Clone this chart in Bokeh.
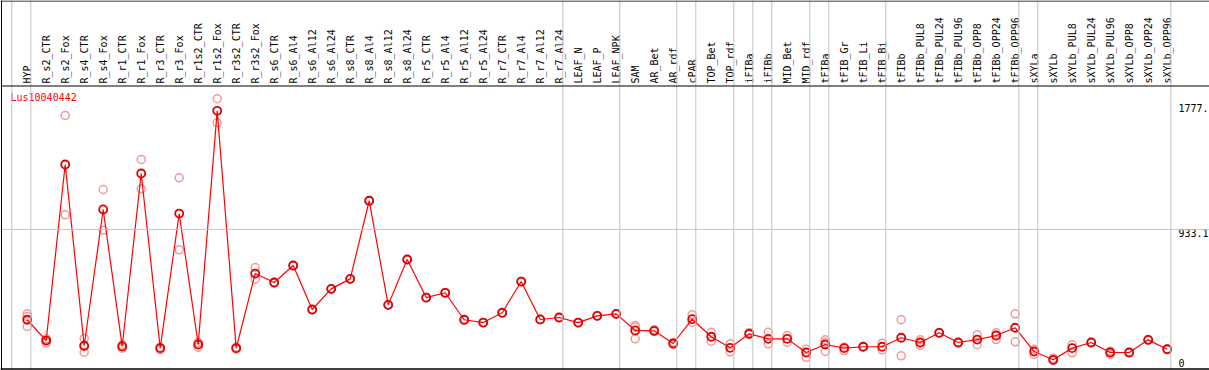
import math
from bokeh.plotting import figure
from bokeh.models import Range1d, Span
from bokeh.core.properties import value
from bokeh.embed import file_html
from bokeh.resources import INLINE

title_text = "Lus10040442"

categories = [
    "HYP", "R_s2_CTR", "R_s2_Fox", "R_s4_CTR", "R_s4_Fox", "R_r1_CTR", "R_r1_Fox",
    "R_r3_CTR", "R_r3_Fox", "R_r1s2_CTR", "R_r1s2_Fox", "R_r3s2_CTR", "R_r3s2_Fox",
    "R_s6_CTR", "R_s6_Al4", "R_s6_Al12", "R_s6_Al24", "R_s8_CTR", "R_s8_Al4",
    "R_s8_Al12", "R_s8_Al24", "R_r5_CTR", "R_r5_Al4", "R_r5_Al12", "R_r5_Al24",
    "R_r7_CTR", "R_r7_Al4", "R_r7_Al12", "R_r7_Al24", "LEAF_N", "LEAF_P", "LEAF_NPK",
    "SAM", "AR_Bet", "AR_rdf", "cPAR", "TOP_Bet", "TOP_rdf", "iFIBa", "iFIBb",
    "MID_Bet", "MID_rdf", "tFIBa", "tFIB_Gr", "tFIB_Li", "tFIB_Bi", "tFIBb",
    "tFIBb_PUL8", "tFIBb_PUL24", "tFIBb_PUL96", "tFIBb_OPP8", "tFIBb_OPP24",
    "tFIBb_OPP96", "sXYLa", "sXYLb", "sXYLb_PUL8", "sXYLb_PUL24", "sXYLb_PUL96",
    "sXYLb_OPP8", "sXYLb_OPP24", "sXYLb_OPP96",
]

means = [
    290, 142, 1395, 105, 1075, 100, 1331, 88, 1046, 114,
    1777, 88, 619, 555, 676, 363, 510, 581, 1137, 396,
    719, 448, 482, 290, 270, 340, 562, 292, 306, 270,
    318, 332, 214, 211, 121, 294, 169, 90, 190, 154,
    154, 57, 114, 88, 98, 98, 162, 128, 197, 128,
    149, 178, 233, 64, 5, 88, 128, 57, 57, 147, 80,
]

replicates = [
    [332, 313, 242], [154, 126, 146], [1744, 1037], [157, 59, 100], [1217, 927],
    [112, 88], [1431, 1222], [95, 78], [1300, 788], [128, 95],
    [1863, 1692], [95, 80], [662, 579], [555, 552], [676, 674],
    [363, 361], [510, 508], [581, 579], [1137, 1135], [396, 394],
    [719, 717], [448, 446], [482, 480], [290, 288], [270, 268],
    [340, 338], [562, 560], [292, 290], [306, 304], [270, 268],
    [318, 316], [332, 330], [249, 237, 154], [219, 206], [128, 114],
    [325, 273], [201, 137], [119, 62], [199, 185], [201, 119],
    [178, 130], [80, 23], [147, 130, 64], [95, 71], [100, 96],
    [123, 76], [290, 33], [147, 109], [199, 195], [130, 126],
    [183, 112], [197, 149], [332, 133], [80, 43], [16, 0],
    [112, 55], [130, 126], [66, 43], [59, 55], [149, 145], [82, 78],
]

# index of the last column of each group (-1 = left edge)
group_ends = [-1, 0, 28, 31, 34, 35, 37, 38, 39, 41, 42, 45, 52, 53, 60]

ytick_values = [0, 933.1, 1777]
ytick_labels = ["0", "933.1", "1777."]

# ---- layout (pixels inside the figure) ----
W, H = 1209, 370
X0, S = 26.7, 19.0      # px of first column, column pitch
Z, K = 360.0, 0.1405    # px of zero, px per unit


def dx(px):
    return (px - X0) / S


def dy(py):
    return (Z - py) / K


FONT = value("DejaVu Sans Mono")

p = figure(width=W, height=H, output_backend="svg", toolbar_location=None,
           x_axis_type=None, y_axis_type=None, title=None,
           x_range=Range1d(dx(0), dx(W)), y_range=Range1d(dy(H), dy(0)),
           min_border=0, min_border_left=0, min_border_right=0,
           min_border_top=0, min_border_bottom=0)
p.outline_line_color = None
p.background_fill_color = "white"
p.border_fill_color = "white"

GRID = "#c4c4c4"
for e in group_ends:
    p.add_layout(Span(location=e + 3.6 / S, dimension="height",
                      line_color=GRID, line_width=1))
p.add_layout(Span(location=ytick_values[1], dimension="width",
                  line_color=GRID, line_width=1))

# frame lines
p.add_layout(Span(location=dy(85.5), dimension="width", line_color="black", line_width=1))
p.add_layout(Span(location=dy(0.5), dimension="width", line_color="black", line_width=1))
p.add_layout(Span(location=dy(368.5), dimension="width", line_color="black", line_width=1.5))
p.add_layout(Span(location=dx(1.0), dimension="height", line_color="black", line_width=1))

idx = list(range(len(categories)))

# column labels
p.text(x=idx, y=dy(83), text=categories, angle=math.pi / 2,
       text_align="left", text_baseline="middle", text_font=FONT,
       text_font_size="10px", text_color="black")

# replicate points
rep_x, rep_y = [], []
for i, reps in enumerate(replicates):
    for r in reps:
        rep_x.append(i)
        rep_y.append(r)
p.scatter(x=rep_x, y=rep_y, marker="circle", size=8, fill_color=None,
          line_color="#f09a9a", line_width=1.5)

# mean line + points
p.line(x=idx, y=means, line_color="#ff0000", line_width=1.2)
p.scatter(x=idx, y=means, marker="circle", size=8, fill_color=None,
          line_color="#e00000", line_width=1.8)

# title
p.text(x=dx(10), y=dy(97), text=[title_text], text_align="left",
       text_baseline="middle", text_font=FONT, text_font_size="10px",
       text_color="#ff0000")

# value labels on the right
p.text(x=dx(1178), y=ytick_values, text=ytick_labels, text_align="left",
       text_baseline="middle", y_offset=[2, 4, -3], text_font=FONT,
       text_font_size="10px", text_color="black")

open("out.html", "w").write(file_html(p, INLINE))
